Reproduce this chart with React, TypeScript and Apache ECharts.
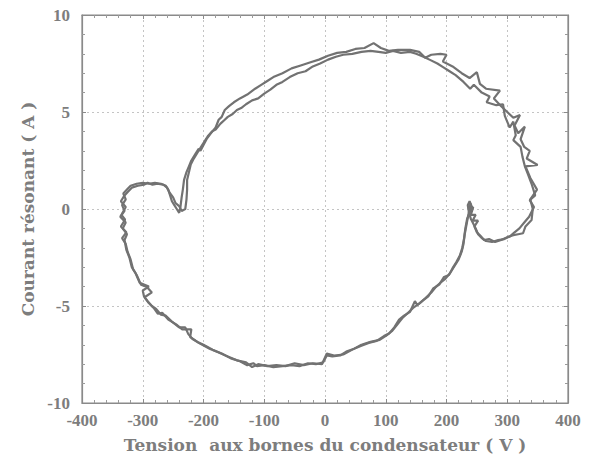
import React, { useEffect, useRef } from "react";
import * as echarts from "echarts";

const xTicks = [-400, -300, -200, -100, 0, 100, 200, 300, 400];
const yTicks = [-10, -5, 0, 5, 10];
const xName = "Tension  aux bornes du condensateur ( V )";
const yName = "Courant résonant ( A )";

// First period of the measured loop: [voltage V, current A]
const traceA: number[][] = [
  [60, -7.0], [45, -7.25], [30, -7.5], [15, -7.55], [3, -7.45], [-5, -8.0], [-20, -7.95], [-35, -8.05],
  [-50, -7.95], [-65, -8.1], [-80, -8.05], [-95, -8.1], [-110, -8.0], [-120, -8.15], [-130, -7.9],
  [-145, -7.8], [-160, -7.6], [-175, -7.4], [-190, -7.2], [-205, -6.95], [-218, -6.7], [-225, -6.45],
  [-230, -6.1], [-240, -6.1], [-252, -5.8], [-262, -5.5], [-270, -5.45], [-278, -5.15], [-285, -5.0],
  [-292, -4.75], [-298, -4.5], [-300, -4.2], [-290, -4.0], [-305, -3.8], [-312, -3.3], [-318, -3.0],
  [-322, -2.5], [-327, -2.1], [-330, -1.6], [-326, -1.3], [-333, -1.0], [-328, -0.7], [-337, -0.4],
  [-330, -0.1], [-334, 0.2], [-328, 0.5], [-332, 0.8], [-326, 1.0], [-320, 1.2], [-310, 1.3],
  [-300, 1.35], [-290, 1.3], [-280, 1.35], [-270, 1.3], [-262, 1.2], [-258, 1.0], [-255, 0.7],
  [-252, 0.4], [-248, 0.2], [-244, 0.0], [-240, -0.2], [-238, 0.1], [-236, 0.6], [-234, 1.0],
  [-232, 1.5], [-228, 1.9], [-224, 2.2], [-220, 2.5], [-214, 2.8], [-208, 3.1], [-205, 3.0],
  [-200, 3.3], [-195, 3.6], [-188, 3.9], [-180, 4.2], [-175, 4.6], [-170, 4.75], [-165, 5.1],
  [-158, 5.3], [-150, 5.5], [-140, 5.7], [-128, 5.9], [-115, 6.2], [-105, 6.4], [-95, 6.6],
  [-85, 6.8], [-70, 7.0], [-55, 7.25], [-40, 7.4], [-25, 7.55], [-10, 7.7], [5, 7.9], [20, 8.05],
  [35, 8.1], [50, 8.25], [65, 8.3], [80, 8.55], [92, 8.3], [105, 8.15], [120, 8.2], [140, 8.2],
  [155, 8.1], [165, 7.8], [175, 7.95], [190, 8.0], [200, 7.95], [194, 7.6], [210, 7.35], [225, 7.0],
  [238, 6.75], [250, 7.05], [255, 6.45], [265, 6.2], [288, 6.1], [278, 5.7], [290, 5.3], [300, 5.0],
  [310, 4.7], [321, 4.85], [312, 4.3], [318, 3.9], [329, 4.25], [322, 3.6], [328, 3.2], [337, 3.0],
  [332, 2.6], [350, 2.27], [330, 2.2], [338, 1.6], [349, 1.0], [338, 0.5], [342, 0.0], [340, -0.57],
  [330, -0.9], [326, -1.25], [318, -1.3], [310, -1.35], [300, -1.45], [290, -1.6], [280, -1.7],
  [270, -1.55], [262, -1.6], [255, -1.35], [250, -1.2], [246, -0.9], [252, -0.6], [243, -0.6],
  [248, -0.3], [240, -0.3], [244, 0.1], [236, 0.0], [240, 0.3], [236, -0.3], [233, -0.8], [230, -1.3],
  [228, -1.8], [225, -2.2], [220, -2.6], [214, -2.9], [206, -3.3], [198, -3.6], [190, -3.8],
  [183, -4.0], [175, -4.3], [165, -4.6], [156, -4.85], [145, -5.1], [135, -5.4], [128, -5.6],
  [118, -6.0], [110, -6.3], [102, -6.5], [90, -6.75], [75, -6.85], [60, -7.0]
];

// Second period of the measured loop
const traceB: number[][] = [
  [60, -7.05], [48, -7.2], [35, -7.35], [25, -7.55], [12, -7.6], [3, -7.55], [-3, -7.9], [-15, -8.0],
  [-28, -7.95], [-42, -8.1], [-55, -8.05], [-70, -8.1], [-85, -8.15], [-100, -8.05], [-112, -8.1],
  [-118, -7.95], [-128, -8.05], [-140, -7.85], [-155, -7.7], [-170, -7.45], [-185, -7.25],
  [-200, -7.0], [-210, -6.85], [-222, -6.6], [-220, -6.2], [-235, -6.2], [-245, -5.95], [-258, -5.7],
  [-268, -5.35], [-275, -5.4], [-282, -5.1], [-290, -4.85], [-297, -4.55], [-285, -4.3], [-294, -4.0],
  [-303, -3.9], [-310, -3.4], [-316, -3.1], [-320, -2.6], [-325, -2.2], [-328, -1.8], [-334, -1.5],
  [-327, -1.2], [-336, -0.9], [-329, -0.55], [-335, -0.3], [-328, 0.1], [-336, 0.4], [-330, 0.7],
  [-324, 0.9], [-318, 1.1], [-308, 1.2], [-298, 1.25], [-292, 1.35], [-284, 1.25], [-276, 1.3],
  [-266, 1.25], [-260, 1.1], [-256, 0.85], [-250, 0.6], [-246, 0.3], [-240, 0.15], [-236, -0.1],
  [-230, 0.0], [-228, 0.5], [-227, 1.0], [-227, 1.5], [-224, 1.9], [-221, 2.3], [-216, 2.6],
  [-210, 2.9], [-204, 3.2], [-198, 3.5], [-193, 3.75], [-186, 4.0], [-180, 4.1], [-172, 4.4],
  [-165, 4.6], [-160, 4.75], [-152, 4.9], [-145, 5.1], [-138, 5.2], [-130, 5.4], [-120, 5.6],
  [-110, 5.7], [-100, 5.95], [-90, 6.15], [-80, 6.4], [-70, 6.55], [-58, 6.8], [-45, 7.0],
  [-32, 7.1], [-20, 7.35], [-8, 7.5], [5, 7.7], [18, 7.85], [30, 7.95], [45, 8.0], [60, 8.1],
  [75, 8.15], [88, 8.1], [100, 8.05], [112, 8.15], [125, 8.05], [140, 8.1], [150, 8.0], [162, 7.85],
  [172, 7.7], [185, 7.5], [195, 7.3], [205, 7.1], [215, 6.9], [228, 6.55], [239, 6.2], [245, 6.4],
  [258, 6.0], [271, 5.8], [266, 5.5], [282, 5.35], [293, 5.4], [296, 4.8], [304, 4.2], [310, 4.5],
  [314, 3.8], [310, 3.55], [322, 3.2], [325, 2.7], [329, 2.2], [334, 1.8], [340, 1.3], [346, 0.7],
  [337, 0.46], [344, 0.1], [336, -0.4], [328, -0.7], [320, -1.0], [312, -1.2], [305, -1.4],
  [295, -1.55], [285, -1.6], [275, -1.7], [265, -1.65], [258, -1.5], [252, -1.3], [248, -1.0],
  [244, -0.75], [240, -0.5], [237, -0.2], [235, 0.2], [238, 0.4], [242, 0.1], [234, -0.5],
  [231, -1.0], [229, -1.5], [226, -2.0], [222, -2.4], [216, -2.75], [210, -3.05], [204, -3.4],
  [196, -3.5], [188, -3.9], [178, -4.1], [170, -4.5], [162, -4.7], [152, -4.95], [148, -4.75],
  [140, -5.3], [130, -5.5], [122, -5.7], [114, -6.1], [106, -6.4], [97, -6.55], [85, -6.8],
  [72, -6.9], [60, -7.05]
];

const INK = "#727272";
const TEXT = "#7d7d7d";
const TICK_FONT = "Liberation Serif";
const NAME_FONT = "DejaVu Serif";

export default function App() {
  const ref = useRef<HTMLDivElement>(null);
  useEffect(() => {
    if (!ref.current) return;
    const chart = echarts.init(ref.current, undefined, { renderer: "svg" });
    const xMin = xTicks[0];
    const xMax = xTicks[xTicks.length - 1];
    const yMin = yTicks[0];
    const yMax = yTicks[yTicks.length - 1];
    const xStep = xTicks[1] - xTicks[0];
    const yStep = yTicks[1] - yTicks[0];
    const tickCommon = () => ({
      axisTick: { show: true, inside: true, length: 4, lineStyle: { color: "#8a8a8a", width: 1 } },
      minorTick: { show: true, splitNumber: 5, length: 3, lineStyle: { color: "#9a9a9a", width: 1 } },
      axisLine: { show: true, onZero: false, lineStyle: { color: "#8a8a8a", width: 1.2 } },
    });
    chart.setOption({
      animation: false,
      backgroundColor: "#ffffff",
      grid: {
        left: 82, top: 15, width: 486, height: 388,
        show: true, borderColor: "#8a8a8a", borderWidth: 1.2, backgroundColor: "transparent",
      },
      xAxis: [
        {
          type: "value", min: xMin, max: xMax, interval: xStep, position: "bottom",
          ...tickCommon(),
          splitLine: { show: true, lineStyle: { color: "#c4c4c4", type: [2, 3], width: 1 } },
          axisLabel: { color: TEXT, fontFamily: TICK_FONT, fontWeight: "bold", fontSize: 17, margin: 9 },
          name: xName, nameLocation: "middle", nameGap: 33,
          nameTextStyle: { color: TEXT, fontFamily: NAME_FONT, fontWeight: "bold", fontSize: 17 },
        },
        {
          type: "value", min: xMin, max: xMax, interval: xStep, position: "top",
          ...tickCommon(), splitLine: { show: false }, axisLabel: { show: false },
        },
      ],
      yAxis: [
        {
          type: "value", min: yMin, max: yMax, interval: yStep, position: "left",
          ...tickCommon(),
          splitLine: { show: true, lineStyle: { color: "#c4c4c4", type: [2, 3], width: 1 } },
          axisLabel: { color: TEXT, fontFamily: TICK_FONT, fontWeight: "bold", fontSize: 17, margin: 12 },
          name: yName, nameLocation: "middle", nameGap: 45,
          nameTextStyle: { color: TEXT, fontFamily: NAME_FONT, fontWeight: "bold", fontSize: 17 },
        },
        {
          type: "value", min: yMin, max: yMax, interval: yStep, position: "right",
          ...tickCommon(), splitLine: { show: false }, axisLabel: { show: false },
        },
      ],
      series: [
        {
          name: "période 1", type: "line", data: traceA, showSymbol: false, symbol: "none",
          lineStyle: { color: INK, width: 2.2 }, xAxisIndex: 0, yAxisIndex: 0,
        },
        {
          name: "période 2", type: "line", data: traceB, showSymbol: false, symbol: "none",
          lineStyle: { color: INK, width: 2.2 }, xAxisIndex: 0, yAxisIndex: 0,
        },
      ],
    });
    return () => chart.dispose();
  }, []);
  return (
    <div
      ref={ref}
      style={{ position: "fixed", left: 0, top: 0, width: 593, height: 465, background: "#fff" }}
    />
  );
}
